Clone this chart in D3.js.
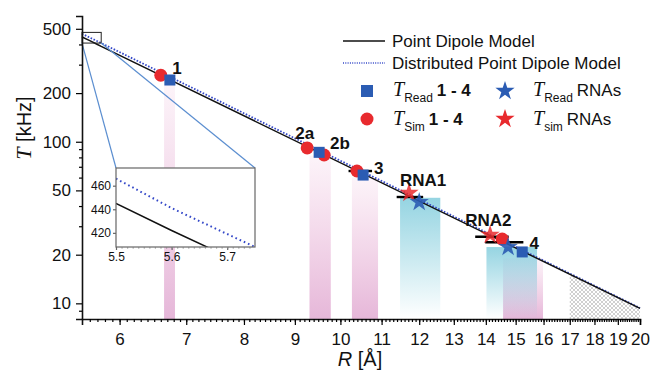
<!DOCTYPE html>
<html>
<head>
<meta charset="utf-8">
<script src="https://cdnjs.cloudflare.com/ajax/libs/d3/7.8.5/d3.min.js"></script>
<style>
	body { margin: 0; background: #fff; }
	text { font-family: Arial, "Liberation Sans", sans-serif; fill: #111; }
	.serif { font-family: "Times New Roman", "Liberation Serif", serif; font-style: italic; }
</style>
</head>
<body>
<svg id="chart" width="650" height="371"></svg>
<script>
// model curves
var modelR = [5.5, 5.6, 5.7, 5.75, 20];
var pointDipoleT = [445, 422, 400, 389, 9.3];
var distributedT = [466, 441, 419, 408, 9.35];

// compounds 1 - 4
var simR = [6.60, 9.26, 9.63, 10.39, 14.54];
var simT = [258, 91.6, 82.8, 65.9, 25.0];
var readR = [6.74, 9.52, 10.54, 15.23];
var readT = [241, 86, 62.2, 20.8];

// RNAs
var simRnaR = [11.72, 14.14];
var simRnaT = [48.2, 26.5];
var readRnaR = [12.0, 14.74];
var readRnaT = [42.3, 22.3];

// black range bars
var rangeR0 = [10.19, 11.39, 13.66, 13.98];
var rangeR1 = [10.76, 12.11, 14.76, 15.27];
var rangeT = [65.9, 45.5, 25.8, 23.9];

// shaded distance bands
var bandR0 = [6.65, 9.31, 10.27, 14.57, 11.48, 14.02];
var bandR1 = [6.82, 9.78, 10.91, 15.98, 12.60, 15.76];
var bandT = [230, 82, 60, 19, 45, 22.3];
var bandKind = ["pink", "pink", "pink", "pink", "cyan", "cyan"];

// hatched region
var hatchR = [17, 20];
var hatchT = [15.1, 9.3];

var labelText = ["1", "2a", "2b", "3", "RNA1", "RNA2", "4"];
var labelR = [6.85, 9.21, 9.99, 10.93, 12.11, 14.08, 15.66];
var labelT = [286, 113, 98, 68.8, 58, 32.8, 23.6];

var xTicks = d3.range(6, 21);
var xMinor = d3.range(56, 201).map(function(d) { return d / 10; });
var yTicks = [10, 20, 50, 100, 200, 500];
var yMinor = [9, 30, 40, 60, 70, 80, 90, 300, 400];

var insetXTicks = [5.5, 5.6, 5.7];
var insetYTicks = [420, 440, 460];

var red = "#e82a2e", blue = "#2b5cb3", dotBlue = "#3448c8";

var margin = {top: 16, right: 10, bottom: 52, left: 82},
	pLeft = margin.left, pRight = 650 - margin.right, pTop = margin.top, pBottom = 371 - margin.bottom,
	svg = d3.select("#chart"),
	x = d3.scaleLog().domain([5.5, 20]).range([pLeft, pRight]),
	y = d3.scaleLog().domain([8, 600]).range([pBottom, pTop]);

var defs = svg.append("defs");
var gp = defs.append("linearGradient").attr("id", "gpink").attr("x1", 0).attr("y1", 0).attr("x2", 0).attr("y2", 1);
gp.append("stop").attr("offset", "0%").attr("stop-color", "#e6a0cc").attr("stop-opacity", 0.12);
gp.append("stop").attr("offset", "100%").attr("stop-color", "#d890c4").attr("stop-opacity", 0.65);
var gc = defs.append("linearGradient").attr("id", "gcyan").attr("x1", 0).attr("y1", 0).attr("x2", 0).attr("y2", 1);
gc.append("stop").attr("offset", "0%").attr("stop-color", "#72c6d8").attr("stop-opacity", 0.75);
gc.append("stop").attr("offset", "100%").attr("stop-color", "#72c6d8").attr("stop-opacity", 0.0);
var hp = defs.append("pattern").attr("id", "hatch").attr("patternUnits", "userSpaceOnUse")
	.attr("width", 4).attr("height", 4);
hp.append("path").attr("d", "M0,0L4,4M4,0L0,4").attr("stroke", "#a0a0a0").attr("stroke-width", 0.5);

// bands
svg.selectAll(".band")
	.data(d3.range(bandR0.length))
	.enter().append("rect")
	.attr("class", "band")
	.attr("x", function(i) { return x(bandR0[i]); })
	.attr("width", function(i) { return x(bandR1[i]) - x(bandR0[i]); })
	.attr("y", function(i) { return y(bandT[i]); })
	.attr("height", function(i) { return pBottom - y(bandT[i]); })
	.attr("fill", function(i) { return bandKind[i] == "pink" ? "url(#gpink)" : "url(#gcyan)"; });

// hatch
var hatchArea = d3.area()
	.x(function(d) { return x(d[0]); })
	.y0(pBottom)
	.y1(function(d) { return y(d[1]); });
svg.append("path")
	.datum(hatchR.map(function(r, i) { return [r, hatchT[i]]; }))
	.attr("d", hatchArea)
	.attr("fill", "url(#hatch)");

// model lines
var line = d3.line()
	.x(function(d) { return x(d[0]); })
	.y(function(d) { return y(d[1]); });
var pdData = modelR.map(function(r, i) { return [r, pointDipoleT[i]]; });
var dpData = modelR.map(function(r, i) { return [r, distributedT[i]]; });
svg.append("path").datum(dpData).attr("d", line)
	.attr("fill", "none").attr("stroke", dotBlue).attr("stroke-width", 1.8).attr("stroke-dasharray", "1.6,1.6");
svg.append("path").datum(pdData).attr("d", line)
	.attr("fill", "none").attr("stroke", "#111").attr("stroke-width", 1.5);

// range bars
svg.selectAll(".range")
	.data(d3.range(rangeT.length))
	.enter().append("line")
	.attr("x1", function(i) { return x(rangeR0[i]); })
	.attr("x2", function(i) { return x(rangeR1[i]); })
	.attr("y1", function(i) { return y(rangeT[i]); })
	.attr("y2", function(i) { return y(rangeT[i]); })
	.attr("stroke", "#000").attr("stroke-width", 2.4);

// markers
svg.selectAll(".sim")
	.data(d3.range(simR.length))
	.enter().append("circle")
	.attr("cx", function(i) { return x(simR[i]); })
	.attr("cy", function(i) { return y(simT[i]); })
	.attr("r", 6.5)
	.attr("fill", red);

svg.selectAll(".read")
	.data(d3.range(readR.length))
	.enter().append("rect")
	.attr("x", function(i) { return x(readR[i]) - 5.5; })
	.attr("y", function(i) { return y(readT[i]) - 5.5; })
	.attr("width", 11).attr("height", 11)
	.attr("fill", blue);

var star = d3.symbol().type(d3.symbolStar).size(115);
svg.selectAll(".simrna")
	.data(d3.range(simRnaR.length))
	.enter().append("path")
	.attr("d", star)
	.attr("transform", function(i) { return "translate(" + x(simRnaR[i]) + "," + y(simRnaT[i]) + ")"; })
	.attr("fill", red).attr("fill-opacity", 0.85);
svg.selectAll(".readrna")
	.data(d3.range(readRnaR.length))
	.enter().append("path")
	.attr("d", star)
	.attr("transform", function(i) { return "translate(" + x(readRnaR[i]) + "," + y(readRnaT[i]) + ")"; })
	.attr("fill", blue).attr("fill-opacity", 0.9);

// labels
svg.selectAll(".lab")
	.data(d3.range(labelText.length))
	.enter().append("text")
	.attr("x", function(i) { return x(labelR[i]); })
	.attr("y", function(i) { return y(labelT[i]); })
	.attr("dy", "0.35em")
	.attr("text-anchor", "middle")
	.attr("font-weight", "bold")
	.attr("font-size", 17)
	.text(function(i) { return labelText[i]; });

// zoom box and inset
var ix0 = 116, ix1 = 255, iy0 = 168, iy1 = 247,
	ix = d3.scaleLinear().domain([5.5, 5.75]).range([ix0, ix1]),
	iy = d3.scaleLinear().domain([408, 475]).range([iy1, iy0]);

svg.append("rect")
	.attr("x", x(5.5)).attr("y", y(475))
	.attr("width", x(5.75) - x(5.5)).attr("height", y(408) - y(475))
	.attr("fill", "none").attr("stroke", "#222").attr("stroke-width", 1);

svg.append("line").attr("x1", x(5.5)).attr("y1", y(408)).attr("x2", ix0).attr("y2", iy0)
	.attr("stroke", "#5b8ed0").attr("stroke-width", 1.2);
svg.append("line").attr("x1", x(5.75)).attr("y1", y(408)).attr("x2", ix1).attr("y2", iy0)
	.attr("stroke", "#5b8ed0").attr("stroke-width", 1.2);

var inset = svg.append("g");
inset.append("rect").attr("x", ix0).attr("y", iy0).attr("width", ix1 - ix0).attr("height", iy1 - iy0)
	.attr("fill", "#fff");
defs.append("clipPath").attr("id", "iclip").append("rect")
	.attr("x", ix0).attr("y", iy0).attr("width", ix1 - ix0).attr("height", iy1 - iy0);
var iline = d3.line()
	.x(function(d) { return ix(d[0]); })
	.y(function(d) { return iy(d[1]); });
var ilines = inset.append("g").attr("clip-path", "url(#iclip)");
ilines.append("path").datum(dpData).attr("d", iline)
	.attr("fill", "none").attr("stroke", dotBlue).attr("stroke-width", 2).attr("stroke-dasharray", "1.6,3");
ilines.append("path").datum(pdData).attr("d", iline)
	.attr("fill", "none").attr("stroke", "#111").attr("stroke-width", 1.5);
inset.append("rect").attr("x", ix0).attr("y", iy0).attr("width", ix1 - ix0).attr("height", iy1 - iy0)
	.attr("fill", "none").attr("stroke", "#666").attr("stroke-width", 1.2);

var iax = inset.append("g")
	.attr("transform", "translate(0," + iy1 + ")")
	.call(d3.axisBottom(ix).tickValues(insetXTicks).tickSize(3).tickPadding(2).tickFormat(d3.format(".1f")));
var iay = inset.append("g")
	.attr("transform", "translate(" + ix0 + ",0)")
	.call(d3.axisLeft(iy).tickValues(insetYTicks).tickSize(3).tickPadding(2));
[iax, iay].forEach(function(g) {
	g.select(".domain").remove();
	g.selectAll("line").attr("stroke", "#666");
	g.selectAll("text").attr("font-size", 12).attr("font-family", "Arial, Liberation Sans").attr("fill", "#222");
});
inset.append("g")
	.attr("transform", "translate(0," + iy1 + ")")
	.call(d3.axisBottom(ix).tickValues(d3.range(551, 575).map(function(d) { return d / 100; })).tickSize(1.5).tickFormat(""))
	.call(function(g) { g.select(".domain").remove(); g.selectAll("line").attr("stroke", "#888"); });

// axes
var xAxis = svg.append("g")
	.attr("transform", "translate(0," + pBottom + ")")
	.call(d3.axisBottom(x).tickValues(xTicks).tickSize(6).tickPadding(8).tickFormat(d3.format("d")));
svg.append("g")
	.attr("transform", "translate(0," + pBottom + ")")
	.call(d3.axisBottom(x).tickValues(xMinor).tickSize(3).tickFormat(""))
	.call(function(g) { g.select(".domain").remove(); });
var yAxis = svg.append("g")
	.attr("transform", "translate(" + pLeft + ",0)")
	.call(d3.axisLeft(y).tickValues(yTicks).tickSize(6).tickPadding(5).tickFormat(d3.format("d")));
svg.append("g")
	.attr("transform", "translate(" + pLeft + ",0)")
	.call(d3.axisLeft(y).tickValues(yMinor).tickSize(3).tickFormat(""))
	.call(function(g) { g.select(".domain").remove(); });

svg.selectAll(".domain").attr("stroke", "#111").attr("stroke-width", 1.6);
svg.selectAll(".tick line").attr("stroke-width", 1.2);
xAxis.selectAll("text").attr("font-size", 17).attr("font-family", "Arial, Liberation Sans").attr("fill", "#111");
yAxis.selectAll("text").attr("font-size", 17).attr("font-family", "Arial, Liberation Sans").attr("fill", "#111");

// axis titles
var xt = svg.append("text").attr("x", 360).attr("y", 366).attr("text-anchor", "middle").attr("font-size", 20);
xt.append("tspan").attr("font-style", "italic").text("R");
xt.append("tspan").text(" [Å]");
var yt = svg.append("text").attr("transform", "translate(31,128) rotate(-90)").attr("text-anchor", "middle").attr("font-size", 20);
yt.append("tspan").attr("class", "serif").attr("font-size", 22).text("T");
yt.append("tspan").text(" [kHz]");

// legend
var lg = svg.append("g");
lg.append("line").attr("x1", 343).attr("x2", 385).attr("y1", 41).attr("y2", 41).attr("stroke", "#111").attr("stroke-width", 1.5);
lg.append("text").attr("x", 392).attr("y", 47).attr("font-size", 17).text("Point Dipole Model");
lg.append("line").attr("x1", 343).attr("x2", 385).attr("y1", 63).attr("y2", 63).attr("stroke", dotBlue)
	.attr("stroke-width", 1.5).attr("stroke-dasharray", "1,1.3");
lg.append("text").attr("x", 392).attr("y", 69).attr("font-size", 17).text("Distributed Point Dipole Model");

lg.append("rect").attr("x", 361).attr("y", 85).attr("width", 12).attr("height", 12).attr("fill", blue);
lg.append("circle").attr("cx", 367).attr("cy", 119).attr("r", 6.5).attr("fill", red);
lg.append("path").attr("d", star).attr("transform", "translate(505,91)").attr("fill", blue);
lg.append("path").attr("d", star).attr("transform", "translate(505,119)").attr("fill", red);

function legendEntry(xp, yp, sub, rest, bold) {
	var t = lg.append("text").attr("x", xp).attr("y", yp).attr("font-size", 17);
	t.append("tspan").attr("class", "serif").attr("font-size", 20).text("T");
	t.append("tspan").attr("font-size", 12).attr("dy", 6).text(sub);
	t.append("tspan").attr("dy", -6).attr("dx", 4).attr("font-weight", bold ? "bold" : "normal").text(rest);
}
legendEntry(393, 96, "Read", "1 - 4", true);
legendEntry(393, 125, "Sim", "1 - 4", true);
legendEntry(533, 96, "Read", "RNAs", false);
legendEntry(533, 125, "sim", "RNAs", false);
</script>
</body>
</html>
